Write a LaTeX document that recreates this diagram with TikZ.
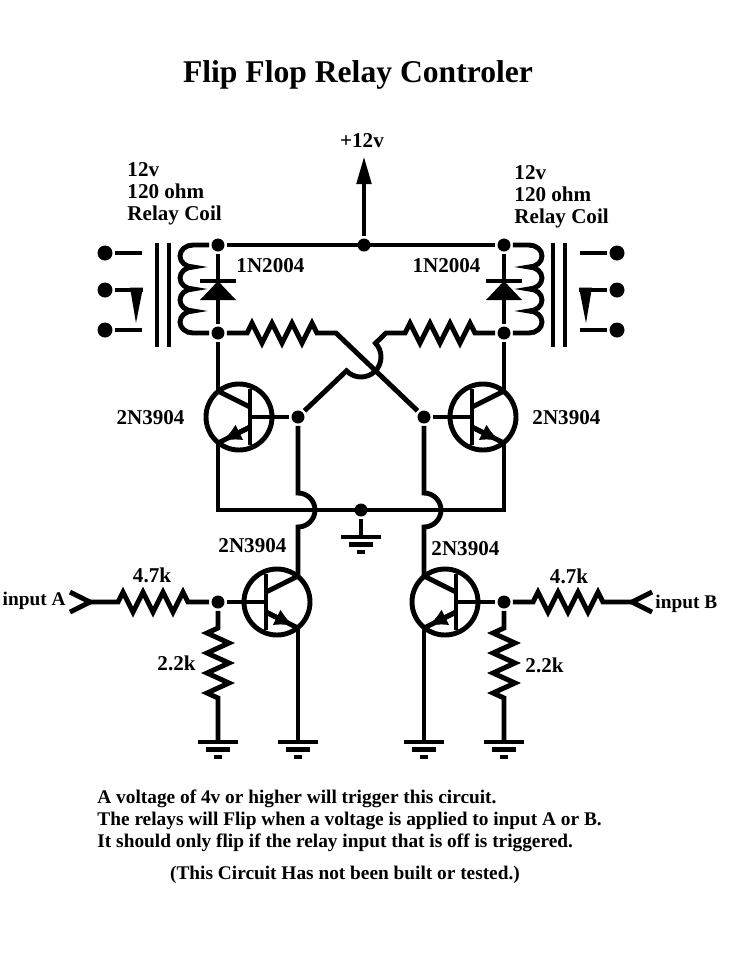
\documentclass[tikz,border=0pt]{standalone}
\usepackage{fontspec}
\setmainfont{Liberation Serif}
\usetikzlibrary{arrows.meta,calc}

\tikzset{
  schem/.style={
    x=0.02cm, y=-0.02cm,
    line width=2.8pt,
    every node/.style={inner sep=0pt, font=\bfseries\fontsize{12}{12.5}\selectfont},
  },
  junction/.style={circle, fill, minimum size=0.26cm},
  contact/.style={circle, fill, minimum size=0.3cm},
  resH/.style={insert path={-- ++(5,-10) -- ++(10,20) -- ++(10,-20) -- ++(10,20)
      -- ++(10,-20) -- ++(10,20) -- ++(10,-20) -- ++(5,10)}},
  resV/.style={insert path={-- ++(-11,5) -- ++(22,10) -- ++(-22,10) -- ++(22,10)
      -- ++(-22,10) -- ++(22,10) -- ++(-22,10) -- ++(11,5)}},
  pics/npn/.style={code={
      \draw (0,0) circle[radius=33];
      \draw (-11,-28) -- (-11,28);
      \draw (-11,-10) -- (21,-26);
      \draw (-11,10) -- (21,26);
      \draw[-{Latex[length=11pt,width=10pt]}] (-11,10) -- (17,24);
      \coordinate (-b) at (-11,0);
      \coordinate (-c) at (21,-26);
      \coordinate (-e) at (21,26);
  }},
  pics/gnd/.style={code={
      \draw (-20,0) -- (20,0) (-12,7.5) -- (12,7.5) (-4,15) -- (4,15);
  }},
  pics/diode/.style={code={
      \fill (-18,19) -- (18,19) -- (0,0) -- cycle;
      \draw (-18,0) -- (18,0);
  }},
}

\begin{document}
\begin{tikzpicture}[schem]
  \useasboundingbox (0,0) rectangle (731,971);

  % junctions
  \node[junction] (dTL) at (218,245) {};
  \node[junction] (dTC) at (364,245) {};
  \node[junction] (dTR) at (504,245) {};
  \node[junction] (dTL2) at (218,333) {};
  \node[junction] (dTR2) at (504,333) {};
  \node[junction] (dL) at (298,417) {};
  \node[junction] (dR) at (424,417) {};
  \node[junction] (dBC) at (361,510) {};
  \node[junction] (dBL) at (218,602) {};
  \node[junction] (dBR) at (504,602) {};
  \coordinate (vcc) at (364,156);
  \coordinate (X) at (361,357);
  \coordinate (tipA) at (90,602);
  \coordinate (tipB) at (632,602);

  \pic[xscale=-1] (QL) at (239,417) {npn};
  \pic (QR) at (483,417) {npn};
  \pic (QbL) at (277,602) {npn};
  \pic[xscale=-1] (QbR) at (445,602) {npn};

  % supply and relays
  \draw (dTL) -- (dTR);
  \draw[-{Triangle[length=16pt,width=8pt]}] (dTC) -- (vcc);
  \draw (dTL) -- (dTL2) -- (QL-c);
  \draw (dTR) -- (dTR2) -- (QR-c);
  \pic at (218,281) {diode};
  \pic at (504,281) {diode};
  \draw (dTL) -- (193,245) arc[start angle=-90, end angle=-270, x radius=13, y radius=11]
    arc[start angle=-90, end angle=-270, x radius=13, y radius=11]
    arc[start angle=-90, end angle=-270, x radius=13, y radius=11]
    arc[start angle=-90, end angle=-270, x radius=13, y radius=11] -- (dTL2);
  \draw (dTR) -- (529,245) arc[start angle=-90, end angle=90, x radius=13, y radius=11]
    arc[start angle=-90, end angle=90, x radius=13, y radius=11]
    arc[start angle=-90, end angle=90, x radius=13, y radius=11]
    arc[start angle=-90, end angle=90, x radius=13, y radius=11] -- (dTR2);
  \draw (157,243) -- (157,347) (169,243) -- (169,347);
  \draw (565,243) -- (565,347) (553,243) -- (553,347);

  \node[contact] (kL1) at (105,253) {};
  \node[contact] (kL2) at (105,290) {};
  \node[contact] (kL3) at (105,330) {};
  \node[contact] (kR1) at (617,253) {};
  \node[contact] (kR2) at (617,290) {};
  \node[contact] (kR3) at (617,330) {};
  \draw (kL1) -- (142,253) (kL2) -- (143,290) (kL3) -- (142,330);
  \draw (kR1) -- (580,253) (kR2) -- (579,290) (kR3) -- (580,330);
  \fill (130,287.5) -- (143,287.5) -- (136,323) -- cycle;
  \fill (592,287.5) -- (579,287.5) -- (586,323) -- cycle;

  % cross coupling
  \draw (dTL2) -- (247,333) [resH] -- (336,333) -- (dR);
  \draw (dL) -- ($(X)+(136.33:20)$) arc[start angle=136.33, end angle=-43.67, radius=20]
    -- (386,333) -- (405,333) [resH] -- (dTR2);
  \draw (dL) -- (QL-b);
  \draw (dR) -- (QR-b);
  \draw (QL-e) -- (QL-e |- dBC) -- (QR-e |- dBC) -- (QR-e);
  \draw (dBC) -- (361,537);
  \pic at (361,537) {gnd};

  % trigger stages
  \draw (dL) -- (298,493) arc[start angle=-90, end angle=90, radius=17] -- (QbL-c);
  \draw (dR) -- (424,493) arc[start angle=-90, end angle=90, radius=17] -- (QbR-c);
  \draw (70,592) -- (tipA) -- (70,612);
  \draw (652,592) -- (tipB) -- (652,612);
  \draw (tipA) -- (118,602) [resH] -- (dBL);
  \draw (dBR) -- (533,602) [resH] -- (tipB);
  \draw (dBL) -- (QbL-b);
  \draw (dBR) -- (QbR-b);
  \draw (dBL) -- (218,628) [resV] -- (218,742);
  \draw (dBR) -- (504,628) [resV] -- (504,742);
  \draw (QbL-e) -- (298,742);
  \draw (QbR-e) -- (424,742);
  \foreach \gx in {218,298,424,504}
    \pic at (\gx,742) {gnd};

  % labels
  \node[anchor=base, font=\bfseries\fontsize{18}{20}\selectfont] (title) at (358,82) {Flip Flop Relay Controler};
  \node[anchor=base] (vccL) at (362,147) {+12v};
  \node[anchor=north west, align=left] (coilL) at (125,160) {12v\\120 ohm\\Relay Coil};
  \node[anchor=north west, align=left] (coilR) at (512,163) {12v\\120 ohm\\Relay Coil};
  \node[anchor=base west] (dioL) at (234,272) {1N2004};
  \node[anchor=base east] (dioR) at (483,272) {1N2004};
  \node[anchor=base east] (qLL) at (187,424) {2N3904};
  \node[anchor=base west] (qRL) at (530,424) {2N3904};
  \node[anchor=base west] (qbLL) at (216,552) {2N3904};
  \node[anchor=base west] (qbRL) at (429,555) {2N3904};
  \node[anchor=base] (rAL) at (152,582) {4.7k};
  \node[anchor=base] (rBL) at (569,583) {4.7k};
  \node[anchor=base east] (pAL) at (198,670) {2.2k};
  \node[anchor=base west] (pBL) at (523,672) {2.2k};
  \node[anchor=base east, font=\bfseries\fontsize{11}{12}\selectfont] (inA) at (68,605) {input A};
  \node[anchor=base west, font=\bfseries\fontsize{11}{12}\selectfont] (inB) at (653,608) {input B};
  \node[anchor=north west, align=left, font=\bfseries\fontsize{11}{12.75}\selectfont] (note) at (95,787)
    {A voltage of 4v or higher will trigger this circuit.\\
     The relays will Flip when a voltage is applied to input A or B.\\
     It should only flip if the relay input that is off is triggered.};
  \node[anchor=base, font=\bfseries\fontsize{11}{12.75}\selectfont] (untested) at (345,879)
    {(This Circuit Has not been built or tested.)};
\end{tikzpicture}
\end{document}
